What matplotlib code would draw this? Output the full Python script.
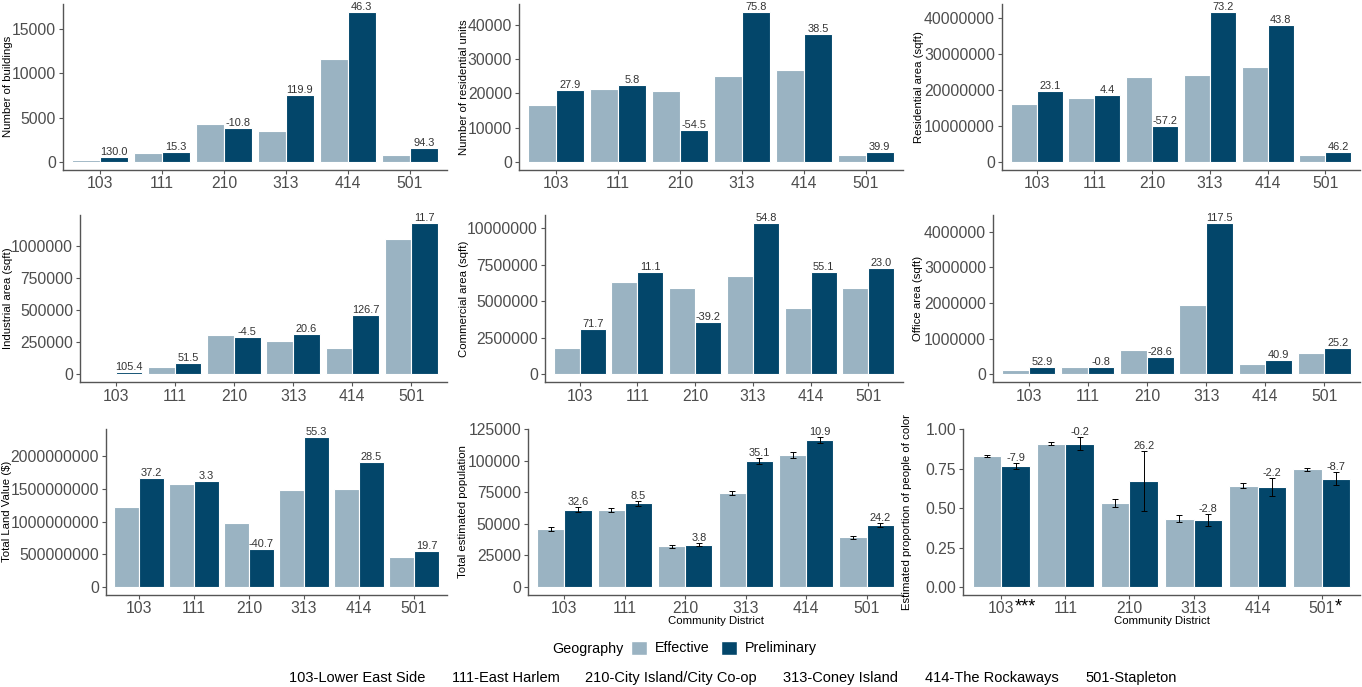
import matplotlib
matplotlib.use("Agg")
import matplotlib.pyplot as plt
import matplotlib.transforms as mtransforms
from matplotlib.patches import Patch
import numpy as np

plt.rcParams["font.family"] = ["Liberation Sans", "DejaVu Sans"]

districts = ["103", "111", "210", "313", "414", "501"]
district_names = ["103-Lower East Side", "111-East Harlem", "210-City Island/City Co-op",
                  "313-Coney Island", "414-The Rockaways", "501-Stapleton"]

# effective / preliminary values per panel
buildings_eff = [235, 990, 4270, 3450, 11600, 802]
buildings_pre = [540, 1140, 3810, 7590, 16985, 1560]
buildings_pct = [130.0, 15.3, -10.8, 119.9, 46.3, 94.3]

units_eff = [16520, 21350, 20580, 25020, 26960, 2125]
units_pre = [21130, 22600, 9370, 43900, 37320, 2980]
units_pct = [27.9, 5.8, -54.5, 75.8, 38.5, 39.9]

resarea_eff = [16.0e6, 17.84e6, 23.54e6, 24.09e6, 26.48e6, 1.84e6]
resarea_pre = [19.7e6, 18.6e6, 10.05e6, 41.8e6, 38.08e6, 2.69e6]
resarea_pct = [23.1, 4.4, -57.2, 73.2, 43.8, 46.2]

indarea_eff = [7800, 57000, 303000, 260000, 202000, 1054000]
indarea_pre = [16000, 86400, 289500, 313500, 459000, 1178000]
indarea_pct = [105.4, 51.5, -4.5, 20.6, 126.7, 11.7]

comarea_eff = [1.81e6, 6.31e6, 5.92e6, 6.70e6, 4.52e6, 5.92e6]
comarea_pre = [3.12e6, 7.01e6, 3.58e6, 10.37e6, 7.01e6, 7.28e6]
comarea_pct = [71.7, 11.1, -39.2, 54.8, 55.1, 23.0]

office_eff = [130000, 201000, 680000, 1957000, 286000, 596000]
office_pre = [199000, 199400, 485000, 4260000, 402000, 746000]
office_pct = [52.9, -0.8, -28.6, 117.5, 40.9, 25.2]

land_eff = [1.222e9, 1.578e9, 0.987e9, 1.483e9, 1.494e9, 0.463e9]
land_pre = [1.677e9, 1.630e9, 0.586e9, 2.305e9, 1.920e9, 0.554e9]
land_pct = [37.2, 3.3, -40.7, 55.3, 28.5, 19.7]

pop_eff = [46000, 60900, 32100, 74000, 104600, 39300]
pop_pre = [61100, 66100, 33300, 99800, 116200, 48900]
pop_eff_err = [1400, 1500, 1000, 1600, 2300, 1300]
pop_pre_err = [1800, 1800, 1200, 2300, 2300, 1500]
pop_pct = [32.6, 8.5, 3.8, 35.1, 10.9, 24.2]

poc_eff = [0.828, 0.908, 0.533, 0.433, 0.642, 0.745]
poc_pre = [0.766, 0.906, 0.672, 0.423, 0.630, 0.686]
poc_eff_err = [0.008, 0.008, 0.027, 0.021, 0.014, 0.008]
poc_pre_err = [0.020, 0.042, 0.188, 0.037, 0.057, 0.039]
poc_pct = [-7.9, -0.2, 26.2, -2.8, -2.2, -8.7]
poc_stars = {"103": "***", "501": "*"}

EFF = "#9AB3C2"
PRE = "#03466A"
GREY = "#4D4D4D"

W, H = 1362, 687
fig = plt.figure(figsize=(W / 100, H / 100), dpi=100)


def box(l, t, r, b):
    return [l / W, 1 - b / H, (r - l) / W, (b - t) / H]


def panel(rect, label_x, eff, pre, pct, ylabel, ticks, eff_err=None, pre_err=None,
          fmt="{:.0f}", xlabel=None):
    ax = fig.add_axes(rect)
    x = np.arange(len(districts))
    w = 0.45
    ax.bar(x - w / 2, eff, w, color=EFF, edgecolor="white", linewidth=0.8)
    ax.bar(x + w / 2, pre, w, color=PRE, edgecolor="white", linewidth=0.8)
    top_pre = np.array(pre, dtype=float)
    tops = [max(eff), max(pre)]
    if eff_err is not None:
        ax.errorbar(x - w / 2, eff, yerr=eff_err, fmt="none", ecolor="black",
                    elinewidth=0.7, capsize=2.2, capthick=0.7)
        ax.errorbar(x + w / 2, pre, yerr=pre_err, fmt="none", ecolor="black",
                    elinewidth=0.7, capsize=2.2, capthick=0.7)
        top_pre = top_pre + np.array(pre_err)
        tops = [max(np.add(eff, eff_err)), max(top_pre)]
    m = max(tops)
    for xi, yi, p in zip(x, top_pre, pct):
        ax.text(xi + w / 2, yi, f"{p:.1f}", ha="center", va="bottom",
                fontsize=7.9, color="#333333")
    ax.set_ylim(-0.05 * m, 1.05 * m)
    ax.set_xlim(-0.6, len(districts) - 0.4)
    ax.set_yticks(ticks)
    ax.set_yticklabels([fmt.format(t) for t in ticks])
    ax.set_xticks(x)
    ax.set_xticklabels(districts)
    for s in ("top", "right"):
        ax.spines[s].set_visible(False)
    for s in ("left", "bottom"):
        ax.spines[s].set_color("#555555")
        ax.spines[s].set_linewidth(1.0)
    ax.tick_params(axis="both", colors="#555555", labelcolor=GREY,
                   labelsize=11.3, length=3, width=0.8, pad=2)
    ax.set_ylabel(ylabel, fontsize=8.2, color="black", va="center")
    lt = mtransforms.blended_transform_factory(fig.transFigure, ax.transAxes)
    ax.yaxis.set_label_coords(label_x / W, 0.5, transform=lt)
    if xlabel:
        ax.set_xlabel(xlabel, fontsize=8.2, color="black", labelpad=0)
    return ax


r1 = (4, 169.5)
r2 = (215, 382)
r3 = (429, 594.5)

panel(box(63, r1[0], 447, r1[1]), 8, buildings_eff, buildings_pre, buildings_pct,
      "Number of buildings", [0, 5000, 10000, 15000])
panel(box(519, r1[0], 903, r1[1]), 464, units_eff, units_pre, units_pct,
      "Number of residential units", [0, 10000, 20000, 30000, 40000])
panel(box(1002, r1[0], 1360, r1[1]), 919, resarea_eff, resarea_pre, resarea_pct,
      "Residential area (sqft)", [0, 1e7, 2e7, 3e7, 4e7])

panel(box(80, r2[0], 447, r2[1]), 8, indarea_eff, indarea_pre, indarea_pct,
      "Industrial area (sqft)", [0, 250000, 500000, 750000, 1000000])
panel(box(545, r2[0], 903, r2[1]), 464, comarea_eff, comarea_pre, comarea_pct,
      "Commercial area (sqft)", [0, 2.5e6, 5e6, 7.5e6, 1e7])
panel(box(993, r2[0], 1360, r2[1]), 918, office_eff, office_pre, office_pct,
      "Office area (sqft)", [0, 1e6, 2e6, 3e6, 4e6])

panel(box(106, r3[0], 447, r3[1]), 7, land_eff, land_pre, land_pct,
      "Total Land Value ($)", [0, 5e8, 1e9, 1.5e9, 2e9])
panel(box(528, r3[0], 903, r3[1]), 463, pop_eff, pop_pre, pop_pct,
      "Total estimated population", [0, 25000, 50000, 75000, 100000, 125000],
      eff_err=pop_eff_err, pre_err=pop_pre_err, xlabel="Community District")
ax9 = panel(box(963, r3[0], 1360, r3[1]), 907, poc_eff, poc_pre, poc_pct,
            "Estimated proportion of people of color", [0, 0.25, 0.5, 0.75, 1.0],
            eff_err=poc_eff_err, pre_err=poc_pre_err, fmt="{:.2f}",
            xlabel="Community District")

# significance stars next to the tick labels
trans = mtransforms.blended_transform_factory(ax9.transData, ax9.transAxes)
for d, stars in poc_stars.items():
    ax9.text(districts.index(d) + 0.21, -0.125, stars, transform=trans,
             ha="left", va="bottom", fontsize=13, color="black")

# legend
fig.text(552 / W, 1 - 649 / H, "Geography", ha="left", va="center",
         fontsize=10.3, color="black")
handles = [Patch(facecolor=EFF, edgecolor="white"), Patch(facecolor=PRE, edgecolor="white")]
fig.legend(handles, ["Effective", "Preliminary"], loc="center left",
           bbox_to_anchor=(631 / W, 1 - 648 / H), ncol=2, frameon=False,
           fontsize=10.3, handlelength=1.15, handleheight=1.15,
           handletextpad=0.55, columnspacing=0.75, borderpad=0, borderaxespad=0)

# district names
name_x = [289, 452, 585, 783, 925, 1085]
for nx, name in zip(name_x, district_names):
    fig.text(nx / W, 1 - 678 / H, name, ha="left", va="center",
             fontsize=10.5, color="black")

fig.savefig("out.png", dpi=100)
